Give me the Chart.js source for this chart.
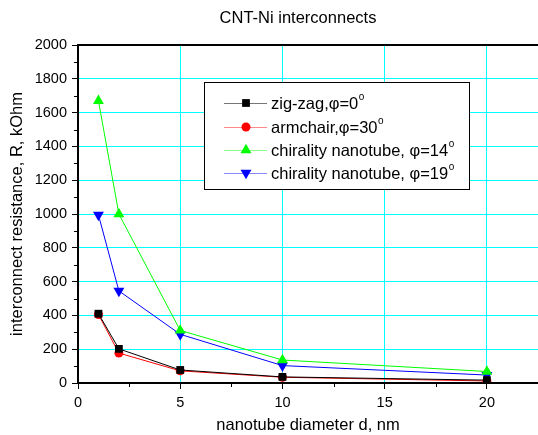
<!DOCTYPE html>
<html>
<head>
<meta charset="utf-8">
<script src="https://cdn.jsdelivr.net/npm/chart.js@4.4.1/dist/chart.umd.min.js"></script>
<style>
  html, body { margin: 0; padding: 0; background: #fff; }
  #wrap { width: 538px; height: 435px; }
</style>
</head>
<body>
<div id="wrap"><canvas id="resChart" width="538" height="435"></canvas></div>
<script>
// diameters, nm
const diameters = [1, 2, 5, 10, 20];
// resistance, kOhm
const zigzag = [410, 202, 77, 36, 17];
const armchair = [405, 177, 72, 34, 12];
const chiral14 = [1670, 1000, 311, 136, 68];
const chiral19 = [995, 545, 288, 103, 47];

const seriesNames = ['zig-zag,\u03c6=0', 'armchair,\u03c6=30', 'chirality nanotube, \u03c6=14', 'chirality nanotube, \u03c6=19'];
const chartTitle = 'CNT-Ni interconnects';
const xTicks = [0, 5, 10, 15, 20];
const yTicks = [0, 200, 400, 600, 800, 1000, 1200, 1400, 1600, 1800, 2000];

const FONT = '"Liberation Sans", Arial, sans-serif';
Chart.defaults.font.family = FONT;
Chart.defaults.color = '#000';

const toPoints = vals => diameters.map((d, i) => ({ x: d, y: vals[i] }));

const makeSet = (label, vals, color, style, radius) => ({
  label,
  data: toPoints(vals),
  showLine: true,
  borderColor: color,
  backgroundColor: color,
  borderWidth: 1,
  pointStyle: style,
  pointRadius: radius,
  pointBorderWidth: 0,
  pointBackgroundColor: color,
  pointBorderColor: color,
  rotation: 0
});

const datasets = [
  makeSet(seriesNames[0], zigzag, '#000', 'rect', 5.5),
  makeSet(seriesNames[1], armchair, '#f00', 'circle', 4.5),
  makeSet(seriesNames[2], chiral14, '#0f0', 'triangle', 6.3),
  makeSet(seriesNames[3], chiral19, '#00f', 'triangle', 6.3)
];
datasets[3].rotation = 180;

// title, minor ticks, top border, legend box
const decorPlugin = {
  id: 'decor',
  afterDraw(chart) {
    const ctx = chart.ctx;
    const xs = chart.scales.x, ys = chart.scales.y;
    const area = chart.chartArea;
    ctx.save();

    ctx.fillStyle = '#000';
    ctx.font = '16.5px ' + FONT;
    ctx.textAlign = 'center';
    ctx.textBaseline = 'middle';
    ctx.fillText(chartTitle, 298, 18);

    ctx.strokeStyle = '#000';
    ctx.lineWidth = 1;
    for (let v = 2.5; v < 22.5; v += 5) {
      const px = Math.round(xs.getPixelForValue(v)) + 0.5;
      ctx.beginPath(); ctx.moveTo(px, area.bottom); ctx.lineTo(px, area.bottom + 4); ctx.stroke();
    }
    for (let v = 100; v < 2000; v += 200) {
      const py = Math.round(ys.getPixelForValue(v)) + 0.5;
      ctx.beginPath(); ctx.moveTo(area.left, py); ctx.lineTo(area.left - 4, py); ctx.stroke();
    }
    ctx.lineWidth = 2;
    ctx.beginPath(); ctx.moveTo(area.left, area.top); ctx.lineTo(area.right, area.top); ctx.stroke();

    // legend
    const bx = 204, by = 82, bw = 265, bh = 107;
    ctx.fillStyle = '#fff';
    ctx.fillRect(bx, by, bw, bh);
    ctx.lineWidth = 1;
    ctx.strokeStyle = '#000';
    ctx.strokeRect(bx + 0.5, by + 0.5, bw, bh);
    const rowY = [103, 127, 150, 173];
    const lineColors = ['#777', '#f88', '#8f8', '#88f'];
    ctx.textBaseline = 'middle';
    datasets.forEach((ds, i) => {
      const y = rowY[i];
      ctx.strokeStyle = lineColors[i];
      ctx.lineWidth = 1;
      ctx.beginPath(); ctx.moveTo(224, y + 0.5); ctx.lineTo(267, y + 0.5); ctx.stroke();
      ctx.fillStyle = ds.backgroundColor;
      Chart.helpers.drawPoint(ctx, {
        pointStyle: ds.pointStyle, rotation: ds.rotation,
        radius: ds.pointRadius, borderWidth: 0
      }, 246, y);
      ctx.fillStyle = '#000';
      ctx.font = '16.5px ' + FONT;
      ctx.textAlign = 'left';
      ctx.fillText(ds.label, 271, y + 1);
      const w = ctx.measureText(ds.label).width;
      ctx.font = '10px ' + FONT;
      ctx.fillText('o', 271 + w + 0.5, y - 6);
    });
    ctx.restore();
  }
};

new Chart('resChart', {
  type: 'scatter',
  data: { datasets },
  options: {
    responsive: false,
    animation: false,
    layout: { autoPadding: false, padding: { right: 0, left: 0, bottom: 0, top: 45 } },
    plugins: {
      legend: { display: false },
      tooltip: { enabled: false },
      title: { display: false }
    },
    scales: {
      x: {
        type: 'linear',
        min: 0,
        max: 22.5,
        afterFit: s => { s.height = 52; s.paddingLeft = 0; s.paddingRight = 0; },
        afterBuildTicks: s => { s.ticks = xTicks.map(v => ({ value: v })); },
        ticks: { font: { size: 14.5 }, padding: 5, maxRotation: 0, callback: v => String(v) },
        grid: {
          color: c => (c.tick && c.tick.value > 0) ? '#0ff' : 'rgba(0,0,0,0)',
          tickColor: '#000',
          tickLength: 6,
          lineWidth: 1
        },
        border: { color: '#000', width: 2 },
        title: { display: true, text: 'nanotube diameter d, nm', font: { size: 16.5 }, padding: { top: 6, bottom: 0 } }
      },
      y: {
        min: 0,
        max: 2000,
        afterFit: s => { s.width = 78; s.paddingTop = 0; s.paddingBottom = 0; },
        afterBuildTicks: s => { s.ticks = yTicks.map(v => ({ value: v })); },
        ticks: { font: { size: 14.5 }, padding: 5, callback: v => String(v) },
        grid: {
          color: c => (c.tick && c.tick.value > 0 && c.tick.value < 2000) ? '#0ff' : 'rgba(0,0,0,0)',
          tickColor: '#000',
          tickLength: 6,
          lineWidth: 1
        },
        border: { color: '#000', width: 2 },
        title: { display: true, text: 'interconnect resistance, R, kOhm', font: { size: 16.5 }, padding: { top: 8, bottom: 0 } }
      }
    }
  },
  plugins: [decorPlugin]
});
</script>
</body>
</html>
